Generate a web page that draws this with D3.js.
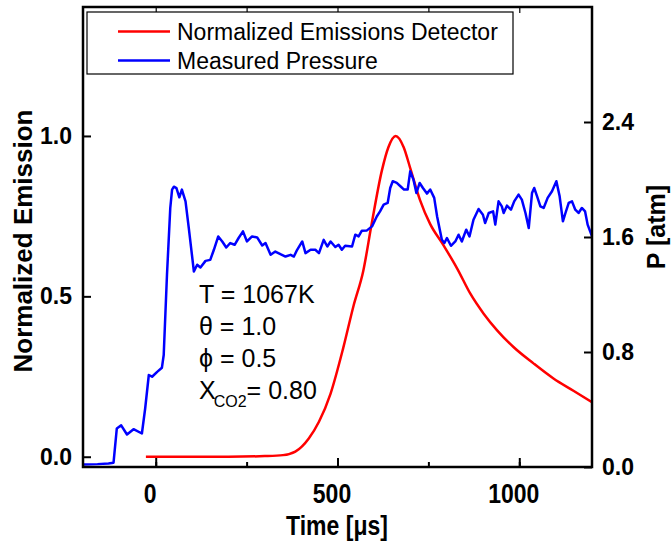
<!DOCTYPE html>
<html>
<head>
<meta charset="utf-8">
<script src="https://cdn.jsdelivr.net/npm/d3@7"></script>
<style>
  body { margin: 0; background: #fff; }
  svg { display: block; font-family: "Liberation Sans", Arial, sans-serif; }
</style>
</head>
<body>
<svg></svg>
<script>
const width = 672,
  height = 548

// emission detector signal (normalized), time in microseconds
const emissionTime = [-27, 0, 100, 200, 300, 350, 384, 421, 449, 481, 516, 544, 571, 594, 622, 640, 660, 682, 700, 727, 755, 790, 830, 865, 902, 939, 984, 1039, 1094, 1150, 1200]
const emission = [0, 0, 0, 0, 0.002, 0.005, 0.016, 0.057, 0.109, 0.197, 0.34, 0.47, 0.58, 0.726, 0.892, 0.965, 1.0, 0.965, 0.9, 0.8, 0.725, 0.662, 0.585, 0.509, 0.446, 0.394, 0.342, 0.291, 0.244, 0.205, 0.17]

// measured pressure [atm]
const pressureTime = [-203, -160, -130, -116, -107, -95, -79, -61, -38, -29, -19, -10, 4, 17, 22, 31, 40, 45, 50, 57, 65, 72, 82, 91, 105, 114, 123, 137, 150, 160, 172, 183, 194, 205, 217, 228, 240, 251, 265, 279, 293, 302, 316, 329, 343, 357, 371, 380, 389, 403, 412, 426, 439, 449, 462, 472, 481, 494, 503, 512, 521, 540, 549, 558, 567, 581, 595, 608, 617, 627, 638, 645, 652, 663, 673, 683, 693, 700, 709, 717, 726, 735, 746, 755, 766, 774, 787, 794, 801, 812, 824, 833, 842, 854, 863, 874, 888, 900, 906, 916, 928, 934, 943, 952, 957, 966, 977, 986, 998, 1007, 1017, 1026, 1035, 1041, 1049, 1058, 1067, 1078, 1090, 1102, 1111, 1120, 1127, 1136, 1145, 1154, 1163, 1172, 1181, 1188, 1200]
const pressure = [0.017, 0.02, 0.025, 0.03, 0.268, 0.29, 0.226, 0.263, 0.233, 0.407, 0.64, 0.628, 0.662, 0.69, 0.779, 1.337, 1.8, 1.93, 1.95, 1.94, 1.876, 1.93, 1.848, 1.662, 1.36, 1.407, 1.388, 1.434, 1.441, 1.511, 1.604, 1.569, 1.527, 1.558, 1.546, 1.593, 1.639, 1.569, 1.604, 1.597, 1.541, 1.558, 1.476, 1.499, 1.481, 1.464, 1.476, 1.464, 1.511, 1.569, 1.488, 1.511, 1.511, 1.488, 1.58, 1.534, 1.569, 1.53, 1.546, 1.511, 1.539, 1.534, 1.616, 1.604, 1.644, 1.646, 1.674, 1.743, 1.778, 1.825, 1.837, 1.941, 1.988, 1.976, 1.953, 1.93, 1.93, 2.057, 1.999, 1.906, 1.976, 1.941, 1.902, 1.93, 1.872, 1.743, 1.581, 1.558, 1.593, 1.539, 1.569, 1.616, 1.569, 1.651, 1.604, 1.72, 1.795, 1.755, 1.697, 1.767, 1.778, 1.686, 1.848, 1.813, 1.767, 1.818, 1.79, 1.848, 1.895, 1.86, 1.767, 1.662, 1.906, 1.941, 1.883, 1.813, 1.802, 1.872, 1.918, 1.988, 1.883, 1.709, 1.767, 1.837, 1.848, 1.79, 1.767, 1.802, 1.778, 1.686, 1.604]

const xTicks = [0, 500, 1000]
const xMinorTicks = [0, 250, 500, 750, 1000]
const leftTicks = [0, 0.5, 1.0]
const rightTicks = [0, 0.8, 1.6, 2.4]
const legendLabels = ["Normalized Emissions Detector", "Measured Pressure"]
const notes = ["T = 1067K", "\u03b8 = 1.0", "\u03d5 = 0.5"]

const plotLeft = 83,
  plotRight = 592,
  plotTop = 7,
  plotBottom = 467

const x = d3.scaleLinear().domain([-200, 1200]).range([plotLeft, plotRight])
const yL = d3.scaleLinear().domain([-0.032, 1.402]).range([plotBottom, plotTop])
const yR = d3.scaleLinear().domain([0, 3.2]).range([plotBottom, plotTop])

const svg = d3.select("svg").attr("width", width).attr("height", height)

svg.append("defs").append("clipPath").attr("id", "plot")
  .append("rect").attr("x", plotLeft).attr("y", plotTop)
  .attr("width", plotRight - plotLeft).attr("height", plotBottom - plotTop)

const g = svg.append("g").attr("clip-path", "url(#plot)")

const emissionLine = d3.line()
  .x(d => x(d[0]))
  .y(d => yL(d[1]))
  .curve(d3.curveMonotoneX)

const pressureLine = d3.line()
  .x(d => x(d[0]))
  .y(d => yR(d[1]))

g.append("path")
  .datum(emissionTime.map((t, i) => [t, emission[i]]))
  .attr("d", emissionLine)
  .attr("fill", "none")
  .attr("stroke", "#ff0000")
  .attr("stroke-width", 2.5)

g.append("path")
  .datum(pressureTime.map((t, i) => [t, pressure[i]]))
  .attr("d", pressureLine)
  .attr("fill", "none")
  .attr("stroke", "#0000ff")
  .attr("stroke-width", 2.5)
  .attr("stroke-linejoin", "round")

// axes, ticks pointing inward
const styleAxis = (sel, size) => {
  sel.select(".domain").remove()
  sel.selectAll(".tick line").attr("stroke", "#000").attr("stroke-width", 2)
  sel.selectAll(".tick text")
    .attr("fill", "#000")
    .attr("font-size", size)
    .attr("font-weight", "bold")
}

svg.append("g")
  .attr("transform", `translate(0,${plotBottom})`)
  .call(d3.axisBottom(x).tickValues(xMinorTicks).tickSize(-5).tickFormat(""))
  .call(styleAxis, 23)

// bottom labels are a bit taller than wide in the original
svg.append("g")
  .attr("transform", `translate(0,${plotBottom})`)
  .call(d3.axisBottom(x).tickValues(xTicks).tickSize(-9).tickFormat(d3.format("d")))
  .call(styleAxis, 23)
  .selectAll(".tick text")
  .attr("y", 13.7)
  .attr("dx", -6)
  .attr("transform", "scale(1,1.2)")

svg.append("g")
  .attr("transform", `translate(0,${plotTop})`)
  .call(d3.axisTop(x).tickValues(xMinorTicks).tickSize(-6).tickFormat(""))
  .call(styleAxis, 23)
  .selectAll(".tick line").attr("stroke-width", 1.2)

svg.append("g")
  .attr("transform", `translate(${plotLeft},0)`)
  .call(d3.axisLeft(yL).tickValues(leftTicks).tickSize(-8).tickPadding(11).tickFormat(d3.format(".1f")))
  .call(styleAxis, 23)

svg.append("g")
  .attr("transform", `translate(${plotRight},0)`)
  .call(d3.axisRight(yR).tickValues(rightTicks).tickSize(-8).tickPadding(10).tickFormat(d3.format(".1f")))
  .call(styleAxis, 23)

svg.append("rect")
  .attr("x", plotLeft).attr("y", plotTop)
  .attr("width", plotRight - plotLeft).attr("height", plotBottom - plotTop)
  .attr("fill", "none")
  .attr("stroke", "#000")
  .attr("stroke-width", 2.5)

// axis titles
svg.append("text")
  .attr("transform", "translate(337,535) scale(1,1.2)")
  .attr("text-anchor", "middle")
  .attr("font-size", 23).attr("font-weight", "bold")
  .text("Time [\u03bcs]")

svg.append("text")
  .attr("transform", "translate(32,241) rotate(-90)")
  .attr("text-anchor", "middle")
  .attr("font-size", 26).attr("font-weight", "bold")
  .text("Normalized Emission")

svg.append("text")
  .attr("transform", "translate(665,227) rotate(-90)")
  .attr("text-anchor", "middle")
  .attr("font-size", 25).attr("font-weight", "bold")
  .text("P [atm]")

// legend
const legend = svg.append("g")
legend.append("rect")
  .attr("x", 87).attr("y", 12).attr("width", 426).attr("height", 62)
  .attr("fill", "#fff").attr("stroke", "#000").attr("stroke-width", 1.2)

const legendColors = ["#ff0000", "#0000ff"]
legendLabels.forEach((label, i) => {
  const yy = 31.5 + i * 29
  legend.append("line")
    .attr("x1", 118).attr("x2", 170).attr("y1", yy).attr("y2", yy)
    .attr("stroke", legendColors[i]).attr("stroke-width", 2.5)
  legend.append("text")
    .attr("x", 177).attr("y", yy + 8)
    .attr("font-size", 23)
    .text(label)
})

// conditions
const ann = svg.append("g").attr("font-size", 25)
notes.forEach((s, i) => {
  ann.append("text").attr("x", 199).attr("y", 303 + i * 32).text(s)
})
const xco = ann.append("text").attr("x", 199).attr("y", 399)
xco.append("tspan").text("X")
xco.append("tspan").attr("font-size", 16).attr("dy", 8).attr("dx", -2).text("CO2")
xco.append("tspan").attr("dy", -8).text("= 0.80")
</script>
</body>
</html>
